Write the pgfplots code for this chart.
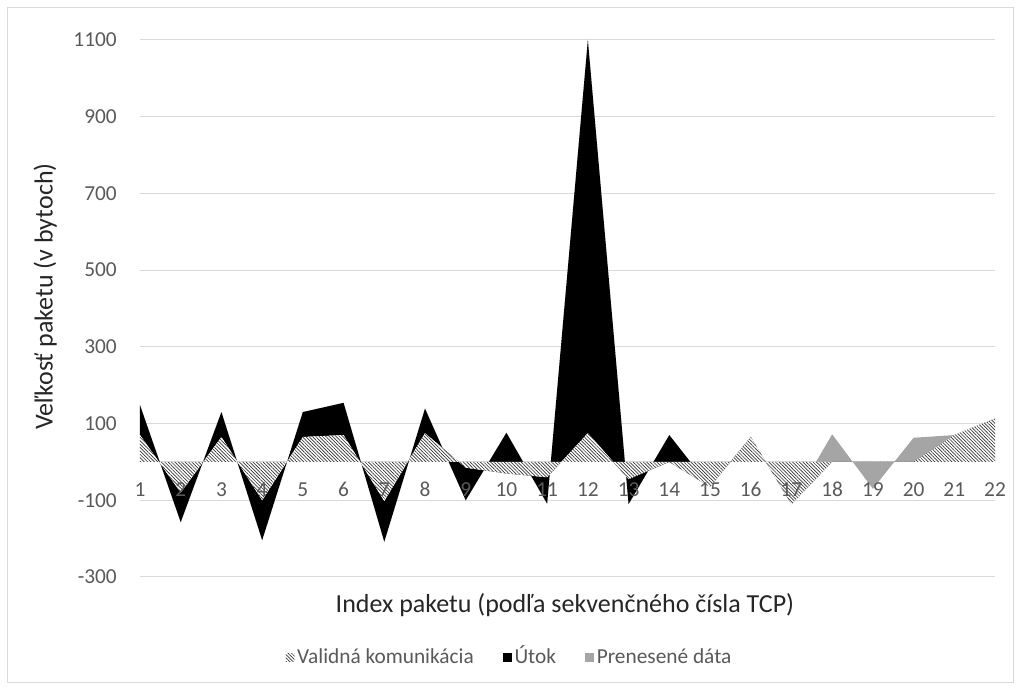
\documentclass[border=0pt]{standalone}
\usepackage{fontspec}
\setmainfont{Carlito}
\usepackage{pgfplots}
\pgfplotsset{compat=1.18}
\usetikzlibrary{patterns.meta}
\definecolor{gridc}{HTML}{D9D9D9}
\definecolor{txt}{HTML}{595959}
\definecolor{grayA}{HTML}{A5A5A5}
\pgfplotsset{layers/mylayers/.define layer set={axis background,axis grid,axis ticks,axis lines,main,axis tick labels,axis descriptions,axis foreground}{
  grid style={/pgfplots/on layer=axis grid},
  tick style={/pgfplots/on layer=axis ticks},
  axis line style={/pgfplots/on layer=axis lines},
  label style={/pgfplots/on layer=axis descriptions},
  legend style={/pgfplots/on layer=axis descriptions},
  title style={/pgfplots/on layer=axis descriptions},
  colorbar style={/pgfplots/on layer=axis descriptions},
  ticklabel style={/pgfplots/on layer=axis tick labels},
  axis background@ style={/pgfplots/on layer=axis background},
  3d box foreground style={/pgfplots/on layer=axis foreground},
}}
\begin{document}
\begin{tikzpicture}
\begin{axis}[
  set layers=mylayers,
  at={(0,0)}, anchor=south west,
  scale only axis, width=641.25pt, height=402.75pt,
  xmin=1, xmax=22, ymin=-300, ymax=1100,
  stack plots=y,
  axis line style={draw=none},
  tick style={draw=none},
  major tick length=0pt,
  ytick={-300,-100,...,1100},
  xtick={1,...,22},
  ymajorgrids, grid style={gridc, line width=0.75pt},
  /pgf/number format/assume math mode=true,
  /pgf/number format/1000 sep={},
  ticklabel style={font=\fontsize{16}{19}\selectfont, text=txt, inner sep=0pt},
  yticklabel style={anchor=east, xshift=-17.25pt},
  xticklabel style={anchor=base, yshift=60pt},
  xlabel={Index paketu (podľa sekvenčného čísla TCP)},
  ylabel={Veľkosť paketu (v bytoch)},
  label style={font=\fontsize{19.5}{23}\selectfont, text=black!85},
  xlabel style={at={(axis description cs:0.497,-0.052)}, anchor=center},
  ylabel style={at={(axis description cs:-0.111,0.522)}, anchor=center},
  legend style={at={(0.4327,-0.1508)}, anchor=center, legend columns=-1, draw=none, fill=none,
    font=\fontsize{16}{19}\selectfont, text=txt, inner sep=0pt,
    nodes={text height=12pt, text depth=3.5pt},
    /tikz/every even column/.append style={column sep=20pt}},
  legend image code/.code={\fill[#1] (0pt,-3pt) rectangle (6.5pt,3.5pt);},
]
\addplot[draw=none, preaction={fill=white}, pattern={Lines[angle=-45,distance=1.8pt,line width=0.5pt]}, pattern color=black!80]
coordinates {(1,70) (2,-80) (3,65) (4,-100) (5,65) (6,70) (7,-102) (8,75) (9,-15) (10,-30) (11,-40) (12,75) (13,-45) (14,0) (15,-65) (16,65) (17,-110) (18,0) (19,0) (20,0) (21,70) (22,113)} \closedcycle;
\addlegendentry{Validná komunikácia}
\addplot[draw=none, fill=black]
coordinates {(1,78) (2,-77) (3,65) (4,-104) (5,65) (6,84) (7,-106) (8,64) (9,-85) (10,106) (11,-69) (12,1025) (13,-65) (14,70) (15,0) (16,0) (17,0) (18,0) (19,0) (20,0) (21,0) (22,0)} \closedcycle;
\addlegendentry{Útok}
\addplot[draw=none, fill=grayA]
coordinates {(1,0) (2,0) (3,0) (4,0) (5,0) (6,0) (7,0) (8,0) (9,0) (10,0) (11,0) (12,0) (13,0) (14,0) (15,0) (16,0) (17,0) (18,72) (19,-70) (20,63) (21,0) (22,0)} \closedcycle;
\addlegendentry{Prenesené dáta}
\draw[gridc, line width=0.75pt] (axis cs:1,0) -- (axis cs:22,0);
\end{axis}
\begin{scope}[x=0.75pt,y=-0.75pt,shift={(-105pt,432.75pt)}]
  \draw[gridc, line width=0.75pt] (8,8) rectangle (1013,683);
  \path (0,0) rectangle (1022,691);
\end{scope}
\end{tikzpicture}
\end{document}
